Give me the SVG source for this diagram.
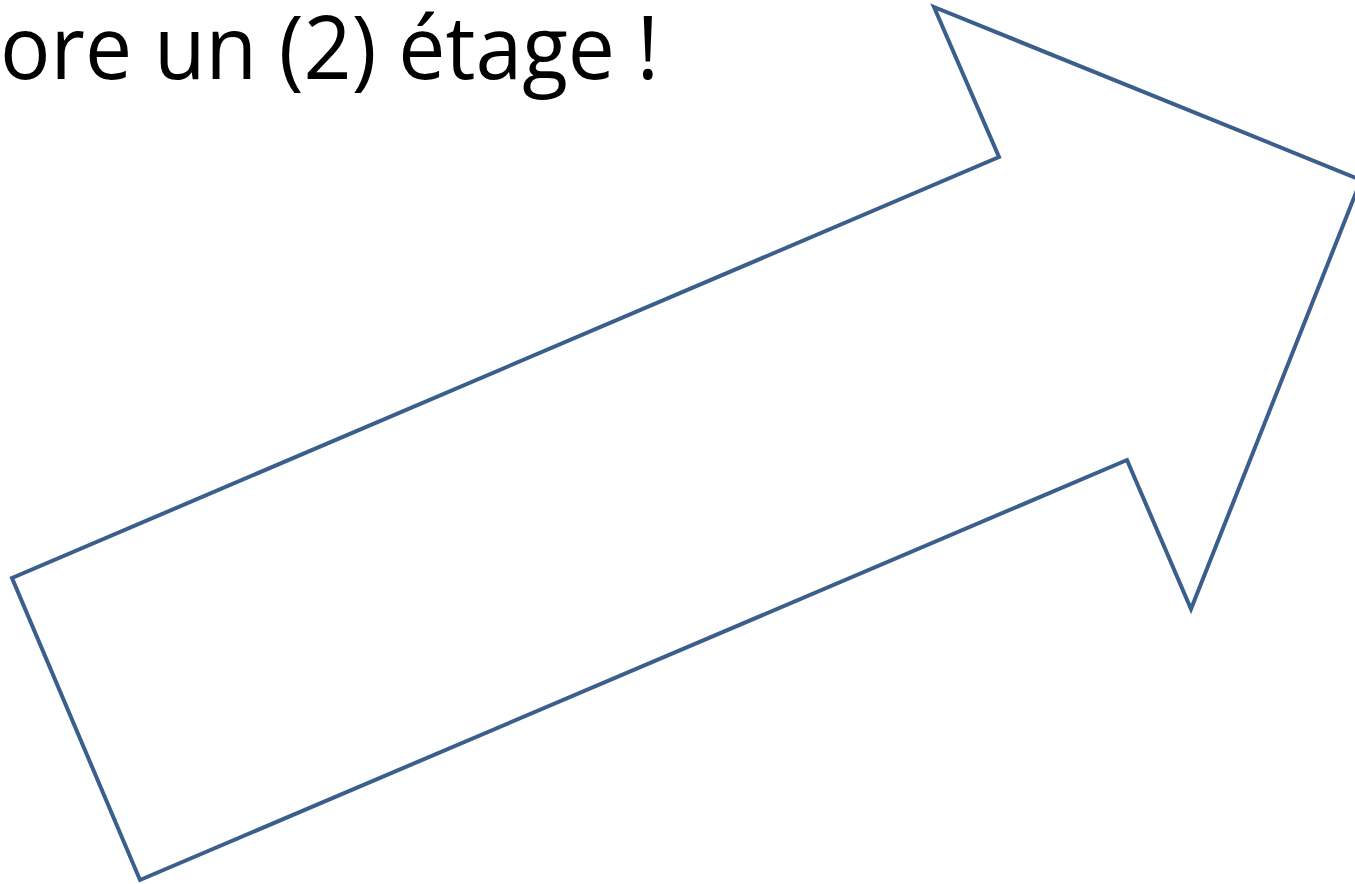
<svg xmlns="http://www.w3.org/2000/svg" width="1355" height="884" viewBox="0 0 1355 884">
<style>
.title{font-family:"Open Sans","Noto Sans","Liberation Sans",sans-serif;font-size:88px;fill:#000}
.arrow{fill:#fff;stroke:#3A5F8D;stroke-width:4;stroke-linejoin:miter}
</style>
<rect width="1355" height="884" fill="#fff"/>
<g id="title"><text class="title" x="0" y="79" textLength="659" lengthAdjust="spacingAndGlyphs">ore un (2) étage !</text></g>
<g id="arrow"><polygon class="arrow" points="934,7 1361,180 1191,609 1127,460 140,880 12,578 999,157"/></g>
</svg>
